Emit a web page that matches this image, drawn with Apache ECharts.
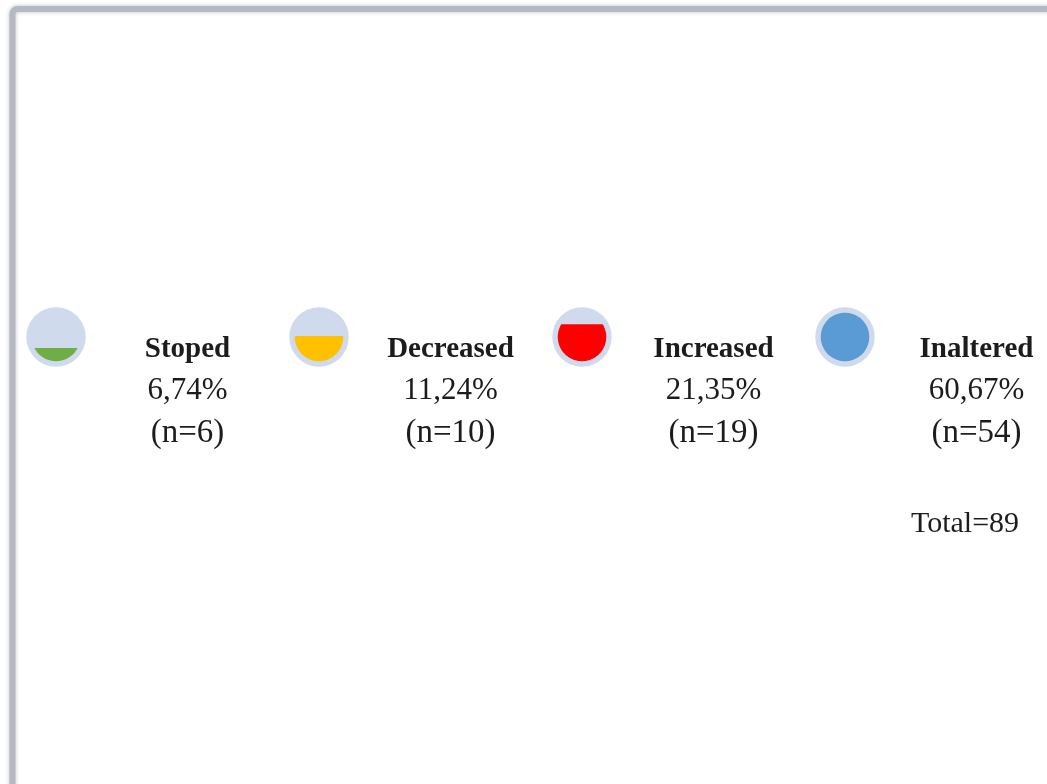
<!DOCTYPE html>
<html>
<head>
<meta charset="utf-8">
<style>html,body{margin:0;padding:0;background:#fff;overflow:hidden}#chart{width:1047px;height:784px}</style>
<script src="https://cdn.jsdelivr.net/npm/echarts@6/dist/echarts.min.js"></script>
</head>
<body>
<div id="chart"></div>
<script>
// Change in use after the intervention, one gauge per outcome
const categories = ['Stoped', 'Decreased', 'Increased', 'Inaltered'];
const percents = [6.74, 11.24, 21.35, 60.67];
const counts = [6, 10, 19, 54];
// Height of the liquid in each gauge, as a share of the disc's diameter
const fillLevels = [0.27, 0.52, 0.76, 1];
const fillColors = ['#70ad47', '#ffc000', '#ff0000', '#5b9bd5'];
const total = counts.reduce((a, b) => a + b, 0);

const SERIF = '"Liberation Serif", "DejaVu Serif", serif';
const TEXT_COLOR = '#1c1c1c';

// Outline of the part of a disc below the given level
function liquidPoints(cx, cy, r, level) {
  const pts = [];
  const start = Math.asin(1 - 2 * level);
  const steps = 90;
  for (let i = 0; i <= steps; i++) {
    const a = start + (Math.PI - 2 * start) * i / steps;
    pts.push([cx + r * Math.cos(a), cy + r * Math.sin(a)]);
  }
  return pts;
}

function renderGauge(params, api) {
  const idx = api.value(0);
  const bottom = api.coord([idx, 0]);
  const top = api.coord([idx, 1]);
  const r = (bottom[1] - top[1]) / 2;
  const cx = bottom[0];
  const cy = (bottom[1] + top[1]) / 2;
  const level = api.value(1);
  // Captions sit halfway between one gauge and the next
  const textX = cx + api.size([1, 0])[0] / 2;
  const text = (str, y, size, weight) => ({
    type: 'text',
    silent: true,
    style: {
      x: textX, y: y, text: str,
      font: weight + ' ' + size + 'px ' + SERIF,
      fill: TEXT_COLOR, align: 'center', verticalAlign: 'middle'
    }
  });
  return {
    type: 'group',
    children: [
      { type: 'circle', shape: { cx: cx, cy: cy, r: r + 5.5 }, style: { fill: '#cfdbed' } },
      { type: 'polygon', shape: { points: liquidPoints(cx, cy, r, level) }, style: { fill: fillColors[idx] } },
      text(categories[idx], cy + 12.5, 29, 'bold'),
      text(String(percents[idx]).replace('.', ',') + '%', cy + 53.5, 31, 'normal'),
      text('(n=' + counts[idx] + ')', cy + 96, 33, 'normal')
    ]
  };
}

const chart = echarts.init(document.getElementById('chart'), null, { renderer: 'canvas' });
chart.setOption({
  animation: false,
  backgroundColor: '#ffffff',
  // The frame runs off the right and bottom edges
  graphic: [{
    type: 'rect',
    silent: true,
    z: 0,
    shape: { x: 12.5, y: 9, width: 1200, height: 1000, r: 5 },
    style: { fill: '#ffffff', stroke: '#b5b9c4', lineWidth: 6, shadowBlur: 4, shadowColor: 'rgba(150,155,170,0.6)' }
  }, {
    type: 'text',
    silent: true,
    z: 5,
    style: {
      x: 965, y: 524, text: 'Total=' + total,
      font: 'normal 30px ' + SERIF,
      fill: TEXT_COLOR, align: 'center', verticalAlign: 'middle'
    }
  }],
  // Index 0 and 3 land on the first and last gauge centres
  grid: { left: 56, top: 312.7, width: 789, height: 48.5 },
  xAxis: { type: 'value', min: 0, max: 3, show: false },
  yAxis: { type: 'value', min: 0, max: 1, show: false },
  series: [{
    type: 'custom',
    coordinateSystem: 'cartesian2d',
    clip: false,
    z: 3,
    renderItem: renderGauge,
    encode: { x: 0, y: 1 },
    data: fillLevels.map((v, i) => [i, v])
  }]
});
</script>
</body>
</html>
